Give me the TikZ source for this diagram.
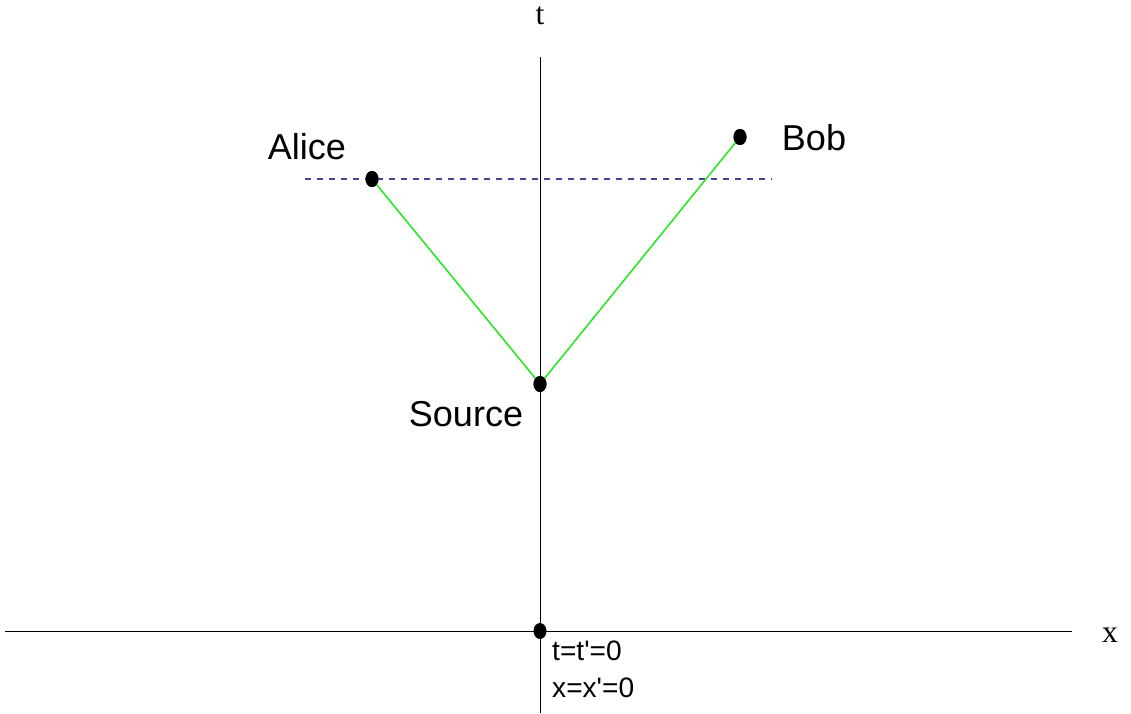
\documentclass[tikz,border=0pt]{standalone}
\usepackage{fontspec}
\setmainfont{Liberation Sans}
\newfontfamily\axisfont{Liberation Serif}
\usetikzlibrary{shapes.geometric}
\definecolor{lightray}{RGB}{40,230,40}
\definecolor{simline}{RGB}{70,70,150}
\tikzset{
	event/.style={ellipse, fill=black, inner sep=0pt, minimum width=0.26cm, minimum height=0.32cm},
	who/.style={font=\fontsize{20.5}{24}\selectfont},
	origin label/.style={font=\fontsize{16}{19}\selectfont, anchor=west},
	axis label/.style={font=\axisfont\fontsize{18}{21}\selectfont}
}
\begin{document}
\begin{tikzpicture}[x=0.02cm, y=-0.02cm]
			\useasboundingbox (0,0) rectangle (1131,713);
			% axes
			\coordinate (tb) at (540,713);
			\coordinate (tt) at (540,57);
			\coordinate (xl) at (5,631);
			\coordinate (xr) at (1072,631);
			\draw[line width=0.55pt] (tb) -- (tt);
			\draw[line width=0.55pt] (xl) -- (xr);
			\node[axis label] (tlab) at (540,16) {t};
			\node[axis label] (xlab) at (1110,635) {x};
			% events
			\node[event] (orig) at (540,631) {};
			\node[event] (src) at (540,384) {};
			\node[event] (alice) at (372,179) {};
			\node[event] (bob) at (740,137) {};
			% simultaneity line
			\coordinate (sl) at (305,179);
			\coordinate (sr) at (772,179);
			\draw[simline, line width=0.8pt, dash pattern=on 3.4pt off 3.4pt] (sl) -- (sr);
			% light rays
			\draw[lightray, line width=0.9pt] (src.center) -- (alice.center);
			\draw[lightray, line width=0.9pt] (src.center) -- (bob.center);
			\node[event] at (alice) {};
			\node[event] at (bob) {};
			\node[event] at (src) {};
			% labels
			\node[who] (alab) at (307,147) {Alice};
			\node[who] (blab) at (814,138) {Bob};
			\node[who] (slab) at (466,414) {Source};
			\node[origin label] (o1) at (546,651) {t=t\textquotesingle=0};
			\node[origin label] (o2) at (546,688) {x=x\textquotesingle=0};
		\end{tikzpicture}
\end{document}
